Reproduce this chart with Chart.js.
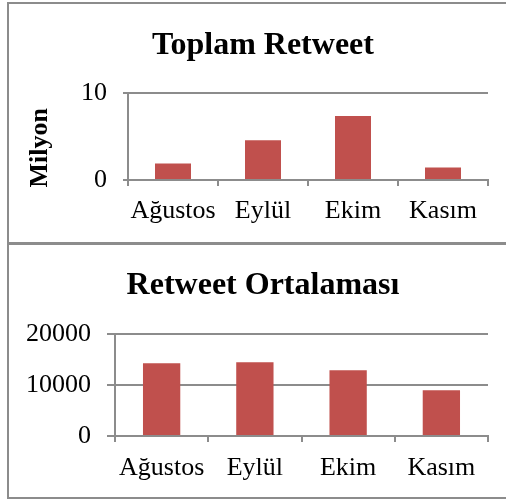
<!DOCTYPE html>
<html>
<head>
<meta charset="utf-8">
<script src="https://cdn.jsdelivr.net/npm/chart.js@4"></script>
<style>
  html, body { margin: 0; padding: 0; background: #fff; }
  body { width: 506px; height: 500px; position: relative; overflow: hidden; }
  .box { position: absolute; left: 7px; width: 520px; border: 2px solid #8c8c8c; box-sizing: border-box; }
  #box1 { top: 2px; height: 243px; }
  #box2 { top: 242px; height: 257px; }
  canvas { position: absolute; left: 0; }
  #totalChart { top: 0; }
  #avgChart { top: 243px; }
</style>
</head>
<body>
<div class="box" id="box1"></div>
<div class="box" id="box2"></div>
<canvas id="totalChart" width="506" height="243"></canvas>
<canvas id="avgChart" width="506" height="257"></canvas>
<script>
// months and values
const months = ['Ağustos', 'Eylül', 'Ekim', 'Kasım'];
const totalRetweets = [1.9, 4.6, 7.4, 1.45];      // milyon
const avgRetweets = [14300, 14500, 12950, 9000];
const totalTicks = [0, 10];
const avgTicks = [0, 10000, 20000];

const serif = "'Liberation Serif', 'Times New Roman', serif";
const gridGray = '#8c8c8c';
const barRed = '#C0504D';

// centres the title on the framed box and draws the vertical "Milyon" label
const framePlugin = {
  id: 'frame',
  afterLayout(chart, args, opts) {
    if (chart.titleBlock) chart.titleBlock.left += opts.titleShift * 2;
  },
  afterDraw(chart, args, opts) {
    if (!opts.yText) return;
    const area = chart.chartArea;
    const ctx = chart.ctx;
    ctx.save();
    ctx.translate(opts.yTextX, (area.top + area.bottom) / 2 + opts.yTextShift);
    ctx.rotate(-Math.PI / 2);
    ctx.font = 'bold 26px ' + serif;
    ctx.fillStyle = '#000';
    ctx.textAlign = 'center';
    ctx.textBaseline = 'middle';
    ctx.fillText(opts.yText, 0, 0);
    ctx.restore();
  }
};

function makeChart(id, title, values, ticks, cfg) {
  const ctx = document.getElementById(id).getContext('2d');
  return new Chart(ctx, {
    type: 'bar',
    data: {
      labels: months,
      datasets: [{
        data: values,
        backgroundColor: barRed,
        borderWidth: 0,
        barPercentage: 0.4,
        categoryPercentage: 1
      }]
    },
    plugins: [framePlugin],
    options: {
      responsive: false,
      animation: false,
      layout: { padding: { left: 0, right: 18, top: 0, bottom: 0 } },
      plugins: {
        legend: { display: false },
        tooltip: { enabled: false },
        title: {
          display: true,
          text: title,
          color: '#000',
          font: { family: serif, size: 32, weight: 'bold' },
          padding: { top: cfg.titleTop, bottom: cfg.titleBottom }
        },
        frame: cfg.frame
      },
      scales: {
        x: {
          grid: { offset: true, drawOnChartArea: false, drawTicks: true, tickLength: 6, color: gridGray, lineWidth: 2 },
          border: { color: gridGray, width: 2 },
          ticks: {
            color: '#000', padding: cfg.xPad, autoSkip: false, maxRotation: 0, minRotation: 0,
            font: { family: serif, size: 26 }
          },
          afterFit(scale) { scale.height = cfg.xHeight; }
        },
        y: {
          min: ticks[0],
          max: ticks[ticks.length - 1],
          afterBuildTicks(scale) { scale.ticks = ticks.map(v => ({ value: v })); },
          grid: { color: gridGray, lineWidth: 2, tickLength: cfg.yTick },
          border: { color: gridGray, width: 2 },
          ticks: {
            color: '#000', padding: 16, font: { family: serif, size: 26 },
            callback: v => String(v)
          },
          afterFit(scale) { scale.width = cfg.yWidth; }
        }
      }
    }
  });
}

makeChart('totalChart', 'Toplam Retweet', totalRetweets, totalTicks, {
  titleTop: 27, titleBottom: 28, xHeight: 63, xPad: 10, yTick: 5, yWidth: 128,
  frame: { titleShift: 19, yText: 'Milyon', yTextX: 40, yTextShift: 11 }
});

makeChart('avgChart', 'Retweet Ortalaması', avgRetweets, avgTicks, {
  titleTop: 24, titleBottom: 29, xHeight: 64, xPad: 11, yTick: 8, yWidth: 115,
  frame: { titleShift: 19 }
});
</script>
</body>
</html>
